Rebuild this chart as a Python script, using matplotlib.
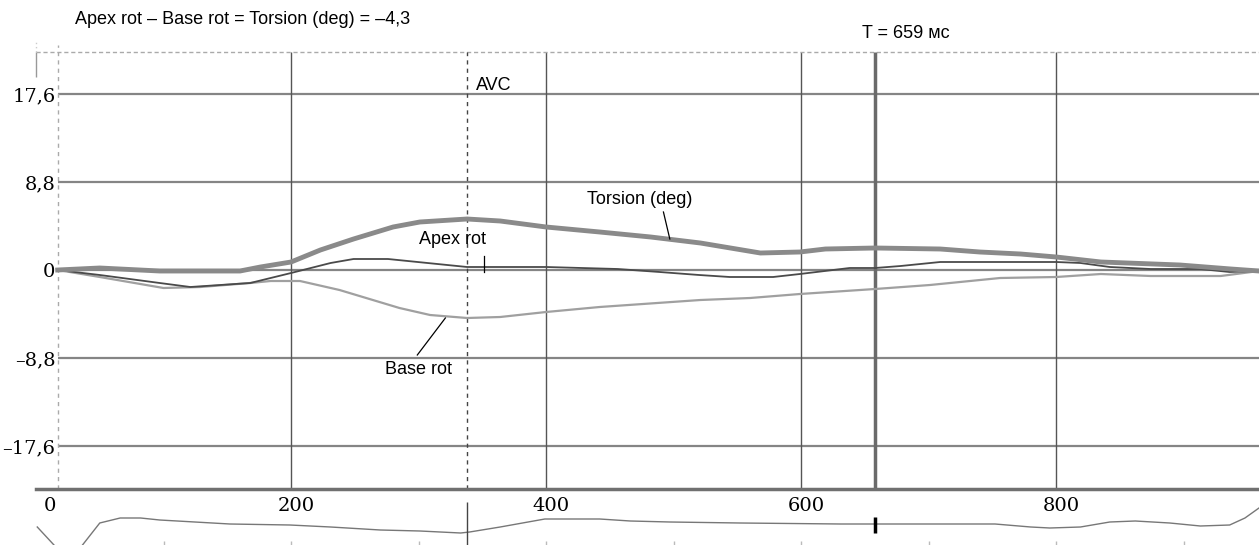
import matplotlib.pyplot as plt
from matplotlib.transforms import ScaledTranslation

# time (ms) / rotation (deg)
torsion_t = [17, 50, 97, 160, 176, 200, 223, 249, 280, 301, 338, 364, 400, 442, 482,
             521, 568, 599, 619, 658, 709, 740, 772, 800, 835, 897, 937, 959]
torsion_v = [0, 0.2, -0.1, -0.1, 0.3, 0.8, 2.0, 3.1, 4.3, 4.8, 5.1, 4.9, 4.3, 3.8, 3.3,
             2.7, 1.7, 1.8, 2.1, 2.2, 2.1, 1.8, 1.6, 1.3, 0.8, 0.5, 0.1, -0.1]

apex_t = [17, 50, 97, 121, 168, 200, 231, 249, 276, 338, 400, 456, 489, 520, 544,
          578, 599, 638, 658, 678, 709, 800, 819, 842, 874, 913, 936, 959]
apex_v = [0, -0.5, -1.3, -1.7, -1.3, -0.3, 0.7, 1.1, 1.1, 0.3, 0.3, 0.1, -0.2, -0.5, -0.7,
          -0.7, -0.4, 0.2, 0.2, 0.4, 0.8, 0.8, 0.7, 0.3, 0.1, 0.1, -0.2, -0.1]

base_t = [17, 50, 100, 129, 168, 184, 207, 238, 285, 309, 338, 364, 400, 442, 521,
          560, 599, 658, 701, 756, 800, 835, 874, 929, 959]
base_v = [0, -0.7, -1.8, -1.7, -1.3, -1.1, -1.1, -2.0, -3.8, -4.5, -4.8, -4.7, -4.2, -3.7, -3.0,
          -2.8, -2.4, -1.9, -1.5, -0.8, -0.7, -0.4, -0.6, -0.6, -0.1]

# ECG trace under the time axis (arbitrary units)
ecg_t = [1, 17, 34, 50, 66, 82, 97, 152, 199, 231, 270, 301, 333, 340, 364, 399,
         442, 466, 497, 552, 631, 752, 780, 795, 819, 842, 862, 889, 913, 936, 948, 959]
ecg_v = [-0.1, -1.2, -1.2, 0.1, 0.35, 0.35, 0.25, 0.05, 0, -0.1, -0.25, -0.3, -0.4, -0.35, -0.1, 0.3,
         0.3, 0.2, 0.15, 0.1, 0.05, 0.05, -0.1, -0.15, -0.1, 0.15, 0.2, 0.1, -0.05, 0, 0.35, 0.85]

y_ticks = [17.6, 8.8, 0, -8.8, -17.6]
y_labels = ['17,6', '8,8', '0', '–8,8', '–17,6']
x_ticks = [0, 200, 400, 600, 800]
x_labels = ['0', '200', '400', '600', '800']

t_avc = 338
t_cursor = 658
t_start = 17

W, H = 1259, 545
fig = plt.figure(figsize=(W / 100, H / 100), dpi=100)
ax = fig.add_axes([36 / W, (H - 489) / H, (W - 36) / W, (489 - 52) / H])
ecg = fig.add_axes([36 / W, 0, (W - 36) / W, (545 - 489) / H])

xmin, xmax = 0, 959
ymin, ymax = -21.9, 21.8
ax.set_xlim(xmin, xmax)
ax.set_ylim(ymin, ymax)
for s in ['top', 'left', 'right']:
    ax.spines[s].set_visible(False)
ax.spines['bottom'].set_color('#707070')
ax.spines['bottom'].set_linewidth(2.5)

# grid
ax.hlines(y_ticks, t_start, xmax, color='#858585', lw=1.6, zorder=1)
ax.vlines([200, 400, 600, 800], ymin, ymax, color='#555555', lw=1, zorder=1)
ax.axhline(ymax, color='#aaaaaa', lw=1, ls=(0, (3, 2)), clip_on=False)
ax.vlines(t_start, ymin, ymax + 0.7, color='#aaaaaa', lw=1, ls=(0, (3, 3)), clip_on=False)
ax.vlines(0, 19.3, ymax, color='#999999', lw=1, clip_on=False)
ax.vlines(0, ymax, ymax + 1.2, color='#cccccc', lw=1, ls=(0, (1, 2)), clip_on=False)
ax.vlines(t_avc, ymin, ymax, color='#444444', lw=1, ls=(0, (3, 3)), zorder=2)
ax.vlines(t_cursor, ymin, ymax, color='#6a6a6a', lw=2.5, zorder=2)

# curves
ax.plot(base_t, base_v, color='#a0a0a0', lw=1.6, zorder=3)
ax.plot(apex_t, apex_v, color='#4a4a4a', lw=1.3, zorder=4)
ax.plot(torsion_t, torsion_v, color='#8a8a8a', lw=3.5, zorder=5)

# ticks
serif = 'DejaVu Serif'
ax.set_yticks(y_ticks)
ax.set_yticklabels(y_labels, family=serif, fontsize=14)
ax.tick_params(axis='y', length=0, pad=-14)
ax.set_xticks(x_ticks)
ax.set_xticklabels(x_labels, family=serif, fontsize=14)
ax.tick_params(axis='x', length=0, pad=6)
for i, lab in enumerate(ax.get_xticklabels()):
    dx = 14 if i == 0 else 5
    lab.set_transform(lab.get_transform() + ScaledTranslation(dx / 100, 0, fig.dpi_scale_trans))

# labels
sans = 'Liberation Sans'
ax.text(345, 18.4, 'AVC', family=sans, fontsize=13, va='center', ha='left')
ax.text(432, 7.0, 'Torsion (deg)', family=sans, fontsize=13, va='center', ha='left')
ax.text(300, 3.0, 'Apex rot', family=sans, fontsize=13, va='center', ha='left')
ax.text(274, -9.9, 'Base rot', family=sans, fontsize=13, va='center', ha='left')
ax.plot([492, 497], [5.8, 3.1], color='black', lw=0.9, zorder=6)
ax.plot([351, 351], [1.4, -0.2], color='black', lw=0.9, zorder=6)
ax.plot([321, 299], [-4.8, -8.5], color='black', lw=0.9, zorder=6)

fig.text(75 / W, 1 - 19 / H, 'Apex rot – Base rot = Torsion (deg) = –4,3',
         family=sans, fontsize=13, va='center', ha='left')
fig.text(862 / W, 1 - 33 / H, 'T = 659 мс', family=sans, fontsize=13, va='center', ha='left')

# ECG strip
ecg.set_xlim(xmin, xmax)
ecg.set_ylim(-1, 1.8)
ecg.patch.set_alpha(0)
for s in ecg.spines.values():
    s.set_visible(False)
ecg.plot(ecg_t, ecg_v, color='#777777', lw=1)
ecg.vlines(t_avc, -1, 1.15, color='#444444', lw=1)
ecg.vlines(t_cursor, -0.4, 0.4, color='black', lw=2.5)
ecg.set_yticks([])
ecg.set_xticks(range(100, 1000, 100))
ecg.set_xticklabels([])
ecg.tick_params(axis='x', length=3, direction='in', color='#bbbbbb', width=1)

fig.savefig('out.png', dpi=100)
